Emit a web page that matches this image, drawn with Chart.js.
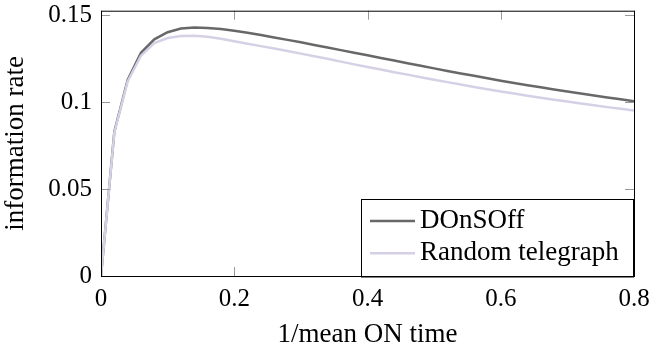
<!DOCTYPE html>
<html>
<head>
<meta charset="utf-8">
<script src="https://cdn.jsdelivr.net/npm/chart.js@4/dist/chart.umd.min.js"></script>
<style>
  html, body { margin: 0; padding: 0; background: #fff; }
  canvas { display: block; }
</style>
</head>
<body>
<canvas id="chart" width="652" height="347"></canvas>
<script>
// x values: 1/mean ON time
const rates = [0, 0.02, 0.04, 0.06, 0.08, 0.10, 0.12, 0.14, 0.16, 0.18, 0.20,
  0.22, 0.24, 0.26, 0.28, 0.30, 0.32, 0.34, 0.36, 0.38, 0.40,
  0.42, 0.44, 0.46, 0.48, 0.50, 0.52, 0.54, 0.56, 0.58, 0.60,
  0.62, 0.64, 0.66, 0.68, 0.70, 0.72, 0.74, 0.76, 0.78, 0.80];

const donsoff = [0, 0.0830, 0.1128, 0.1285, 0.1362, 0.1403, 0.1424, 0.1430, 0.1428, 0.1421, 0.1412,
  0.1400, 0.1387, 0.1373, 0.1359, 0.1345, 0.1330, 0.1315, 0.1300, 0.1285, 0.1270,
  0.1255, 0.1240, 0.1225, 0.1210, 0.1195, 0.1180, 0.1166, 0.1152, 0.1138, 0.1124,
  0.1111, 0.1098, 0.1086, 0.1074, 0.1062, 0.1050, 0.1039, 0.1028, 0.1017, 0.1006];

const telegraph = [0, 0.0825, 0.1120, 0.1268, 0.1340, 0.1370, 0.1381, 0.1383, 0.1377, 0.1365, 0.1351,
  0.1337, 0.1323, 0.1309, 0.1295, 0.1280, 0.1265, 0.1250, 0.1234, 0.1218, 0.1203,
  0.1188, 0.1173, 0.1159, 0.1144, 0.1130, 0.1116, 0.1102, 0.1088, 0.1075, 0.1062,
  0.1050, 0.1038, 0.1026, 0.1015, 0.1004, 0.0993, 0.0983, 0.0972, 0.0962, 0.0952];

const seriesNames = ['DOnSOff', 'Random telegraph'];
const seriesColors = ['#686868', '#d6d0e6'];

const FONT = "'Liberation Serif', 'DejaVu Serif', serif";
const TICK = 9;

function fmt(v) { return String(Number(v.toFixed(2))); }

// frame, inward ticks and legend box, pgfplots style
const framePlugin = {
  id: 'frame',
  afterDatasetsDraw(chart) {
    const { ctx, chartArea: a, scales: { x, y } } = chart;
    ctx.save();
    ctx.lineWidth = 1;
    ctx.strokeStyle = '#999';
    ctx.beginPath();
    x.ticks.forEach(t => {
      const px = Math.round(x.getPixelForValue(t.value)) + 0.5;
      ctx.moveTo(px, a.bottom); ctx.lineTo(px, a.bottom - TICK);
      ctx.moveTo(px, a.top); ctx.lineTo(px, a.top + TICK);
    });
    y.ticks.forEach(t => {
      const py = Math.round(y.getPixelForValue(t.value)) + 0.5;
      ctx.moveTo(a.left, py); ctx.lineTo(a.left + TICK, py);
      ctx.moveTo(a.right, py); ctx.lineTo(a.right - TICK, py);
    });
    ctx.stroke();

    ctx.strokeStyle = '#000';
    ctx.strokeRect(a.left + 0.5, a.top + 0.5, a.right - a.left, a.bottom - a.top);

    // legend
    const bx = a.right - 273, by = a.bottom - 77.5, bw = 272, bh = 77.5;
    ctx.fillStyle = '#fff';
    ctx.fillRect(bx, by, bw, bh);
    ctx.strokeRect(Math.round(bx) + 0.5, Math.round(by) + 0.5, bw, bh);
    ctx.font = '27px ' + FONT;
    ctx.textBaseline = 'middle';
    ctx.textAlign = 'left';
    chart.data.datasets.forEach((ds, i) => {
      const ly = by + 22.4 + i * 32.3;
      ctx.strokeStyle = ds.borderColor;
      ctx.lineWidth = 2.5;
      ctx.beginPath();
      ctx.moveTo(bx + 9, ly); ctx.lineTo(bx + 54, ly);
      ctx.stroke();
      ctx.fillStyle = '#000';
      ctx.fillText(ds.label, bx + 59, ly);
    });
    ctx.restore();
  }
};

new Chart(document.getElementById('chart'), {
  type: 'line',
  data: {
    labels: rates,
    datasets: [
      { label: seriesNames[0], data: rates.map((r, i) => ({ x: r, y: donsoff[i] })),
        borderColor: seriesColors[0], borderWidth: 2.5, pointRadius: 0, tension: 0, order: 2 },
      { label: seriesNames[1], data: rates.map((r, i) => ({ x: r, y: telegraph[i] })),
        borderColor: seriesColors[1], borderWidth: 2.5, pointRadius: 0, tension: 0, order: 1 }
    ]
  },
  options: {
    responsive: false,
    animation: false,
    devicePixelRatio: 1,
    layout: { padding: { left: 0, right: 18, top: 10.7, bottom: 0 } },
    plugins: { legend: { display: false }, tooltip: { enabled: false } },
    scales: {
      x: {
        type: 'linear', min: 0, max: 0.8,
        grid: { display: false, drawTicks: false },
        border: { display: false },
        ticks: { stepSize: 0.2, padding: 8, color: '#000', font: { family: FONT, size: 25 },
          callback: v => fmt(v), maxRotation: 0 },
        title: { display: true, text: '1/mean ON time', color: '#000',
          font: { family: FONT, size: 27, lineHeight: 0.9 }, padding: { top: 0, bottom: 0 } },
        afterFit(s) { s.height = 71; s.paddingLeft = 0; s.paddingRight = 0; }
      },
      y: {
        type: 'linear', min: 0, max: 0.1527,
        grid: { display: false, drawTicks: false },
        border: { display: false },
        ticks: { stepSize: 0.05, includeBounds: false, padding: 9, color: '#000',
          font: { family: FONT, size: 25 }, callback: v => fmt(v) },
        title: { display: true, text: 'information rate', color: '#000',
          font: { family: FONT, size: 27, lineHeight: 1 }, padding: { top: 2.3, bottom: 0 } },
        afterFit(s) { s.width = 101; s.paddingTop = 0; s.paddingBottom = 0; }
      }
    }
  },
  plugins: [framePlugin]
});
</script>
</body>
</html>
